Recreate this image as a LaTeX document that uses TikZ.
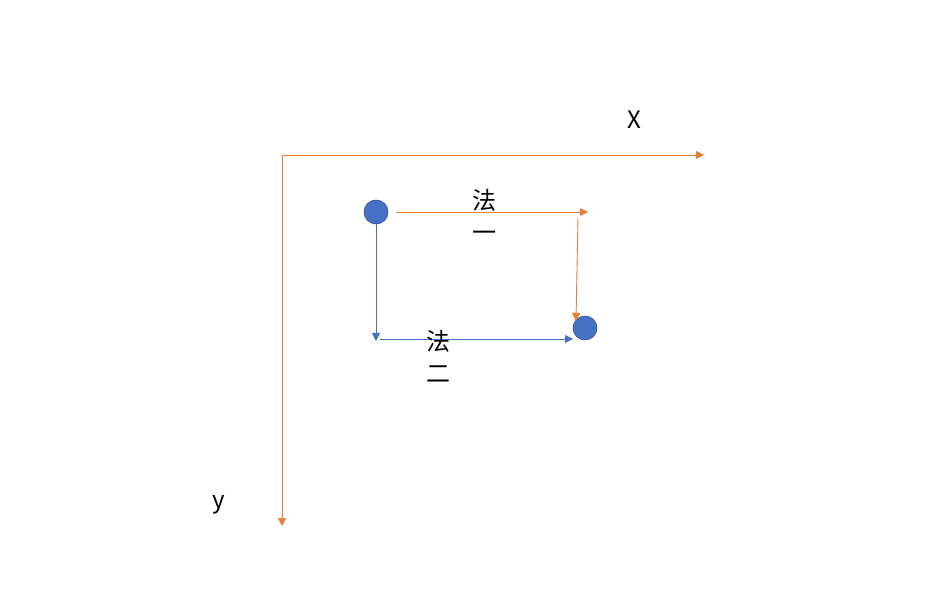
\documentclass[tikz,border=0pt]{standalone}
\usepackage{fontspec}
\setmainfont{Noto Sans CJK SC}
\usetikzlibrary{arrows.meta}
\definecolor{axisorange}{HTML}{ED7D31}
\definecolor{dotblue}{HTML}{4472C4}
\definecolor{dotedge}{HTML}{2F528F}
\tikzset{
  dot/.style={circle, fill=dotblue, draw=dotedge, line width=0.6pt, minimum size=24pt, inner sep=0pt},
  orangearrow/.style={draw=axisorange, line width=0.9pt, -{Triangle[length=8pt,width=8pt]}},
  bluearrow/.style={draw=dotblue, line width=0.9pt, -{Triangle[length=8pt,width=8pt]}},
  lbl/.style={font=\fontsize{24}{32}\selectfont, align=center, inner sep=0pt},
}
\begin{document}
\begin{tikzpicture}[x=1pt,y=-1pt]
\useasboundingbox (0,0) rectangle (943,612);
% axes
\coordinate (O) at (282,155);
\coordinate (Xend) at (704,155);
\coordinate (Yend) at (282,526);
\draw[orangearrow] (O) -- (Xend);
\draw[orangearrow] (O) -- (Yend);
\node[lbl] (xl) at (634,120) {X};
\node[lbl] (yl) at (219,505) {y};
% dots
\node[dot] (d1) at (376,212) {};
\node[dot] (d2) at (585,328) {};
% method one
\coordinate (a1s) at (396,212);
\coordinate (a1e) at (588,212);
\coordinate (a2s) at (578,217);
\coordinate (a2e) at (576,321);
\draw[orangearrow] (a1s) -- (a1e);
\draw[orangearrow] (a2s) -- (a2e);
% method two
\coordinate (b1e) at (376,341);
\coordinate (b2s) at (380,339);
\coordinate (b2e) at (573,339);
\draw[bluearrow] (d1.south) -- (b1e);
\draw[bluearrow] (b2s) -- (b2e);
% labels
\node[lbl] (m1) at (484,215) {法\\一};
\node[lbl] (m2) at (438,356) {法\\二};
\end{tikzpicture}
\end{document}
